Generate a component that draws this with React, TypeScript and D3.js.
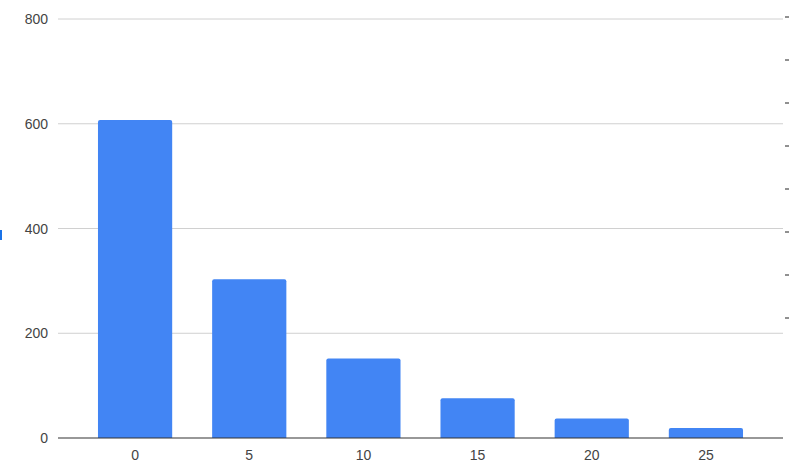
import * as d3 from 'd3';

const categories = ['0', '5', '10', '15', '20', '25'];
const values = [607, 303, 152, 76, 37, 19];
const yTicks = [0, 200, 400, 600, 800];
const rightTicks = [0, 1, 2, 3, 4, 5, 6, 7];

const width = 790;
const height = 465;
const font = 'Arial, "Liberation Sans", sans-serif';

export default function App() {
  const plotLeft = 58;
  const plotRight = 783;

  const x = d3.scaleBand<string>()
    .domain(categories)
    .range([78, 763])
    .paddingInner(0.35)
    .paddingOuter(0.175);

  const y = d3.scaleLinear().domain([0, 800]).range([438, 19]);

  // unlabeled tick marks along the right edge
  const yRight = d3.scaleLinear().domain([0, 7]).range([17, 318]);

  const bw = x.bandwidth();
  const r = 2;

  const barPath = (cat: string, v: number) => {
    const x0 = x(cat)!;
    const y0 = y(v);
    const y1 = y(0);
    const p = d3.path();
    p.moveTo(x0, y1);
    p.lineTo(x0, y0 + r);
    p.quadraticCurveTo(x0, y0, x0 + r, y0);
    p.lineTo(x0 + bw - r, y0);
    p.quadraticCurveTo(x0 + bw, y0, x0 + bw, y0 + r);
    p.lineTo(x0 + bw, y1);
    p.closePath();
    return p.toString();
  };

  return (
    <svg
      width={width}
      height={height}
      style={{ position: 'absolute', left: 0, top: 0, display: 'block', background: '#fff' }}
    >
      {/* gridlines */}
      {yTicks.filter(t => t !== 0).map(t => (
        <line key={t} x1={plotLeft} x2={plotRight} y1={y(t)} y2={y(t)} stroke="#d0d0d0" strokeWidth={1} />
      ))}

      {/* y labels */}
      {yTicks.map(t => (
        <text
          key={t}
          x={48}
          y={y(t)}
          dy="0.36em"
          textAnchor="end"
          fontSize={14}
          fill="#444"
          fontFamily={font}
        >
          {t}
        </text>
      ))}

      {/* bars */}
      {categories.map((c, i) => (
        <path key={c} d={barPath(c, values[i])} fill="#4285f4" />
      ))}

      {/* baseline */}
      <line x1={plotLeft} x2={plotRight} y1={y(0)} y2={y(0)} stroke="#333" strokeWidth={1.2} />

      {/* x labels */}
      {categories.map(c => (
        <text
          key={c}
          x={x(c)! + bw / 2}
          y={460}
          textAnchor="middle"
          fontSize={14}
          fill="#444"
          fontFamily={font}
        >
          {c}
        </text>
      ))}

      {/* right tick marks */}
      {rightTicks.map(t => (
        <line key={t} x1={785} x2={789} y1={yRight(t)} y2={yRight(t)} stroke="#222" strokeWidth={1} />
      ))}

      {/* small blue marker on the left edge */}
      <rect x={0} y={230} width={2} height={10} fill="#1a73e8" />
    </svg>
  );
}
